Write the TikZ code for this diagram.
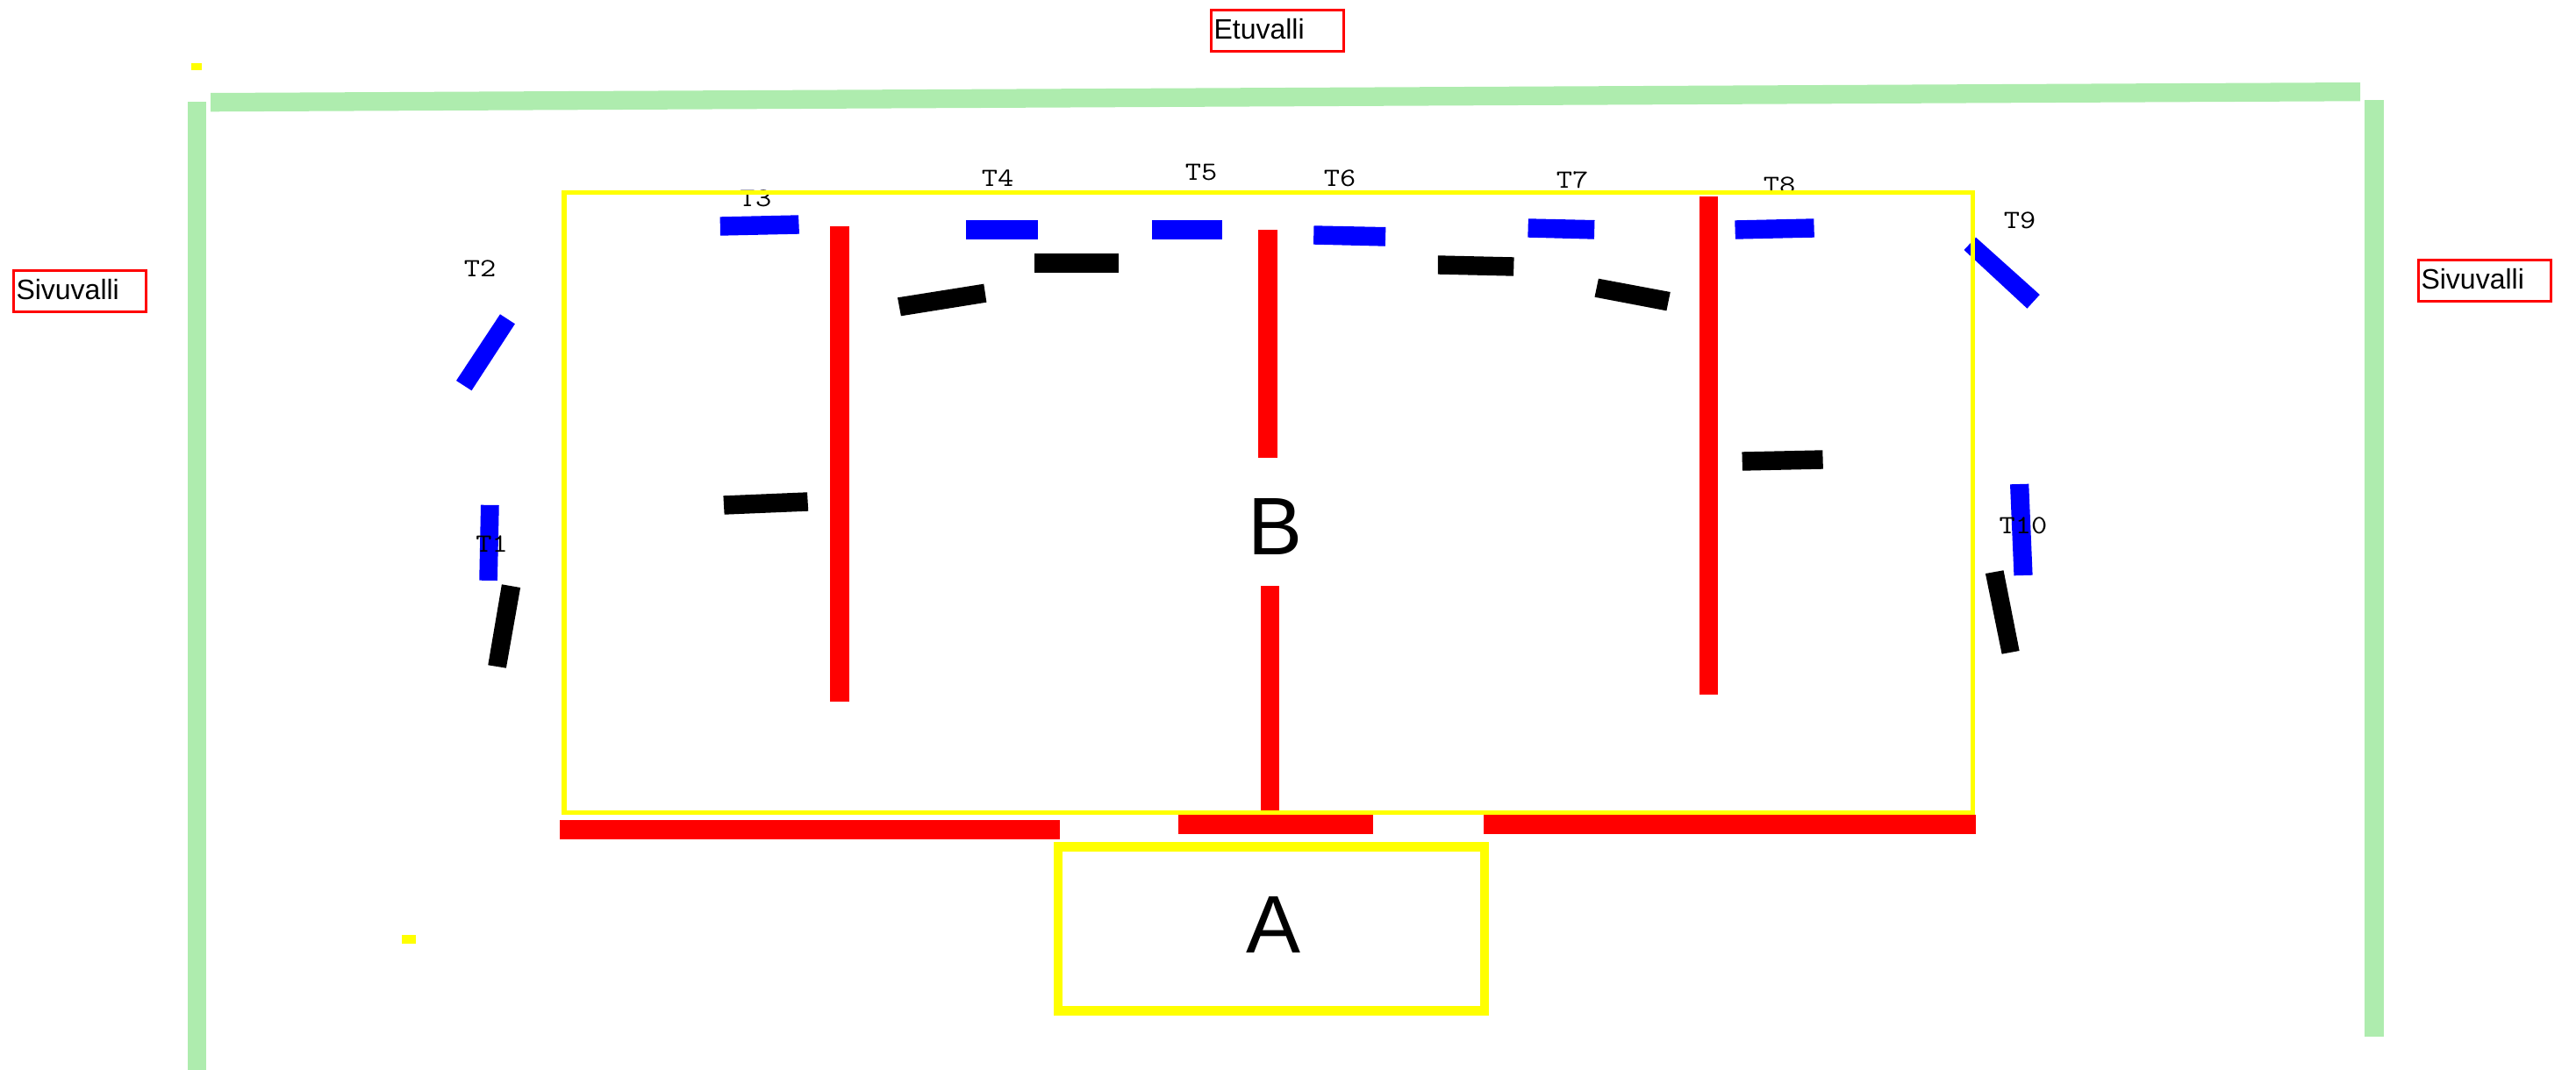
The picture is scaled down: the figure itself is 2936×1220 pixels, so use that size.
\documentclass[tikz,border=0pt]{standalone}
\usepackage{fontspec}
\setmainfont{Liberation Sans}
\newfontfamily\tfont[FakeStretch=1.18]{Latin Modern Mono}
\definecolor{wallgreen}{RGB}{174,236,174}
\definecolor{roomyellow}{RGB}{255,255,0}
\definecolor{barred}{RGB}{255,0,0}
\definecolor{barblue}{RGB}{0,0,255}
\tikzset{
    wallbar/.style={fill=wallgreen},
    glassbar/.style={fill=barred},
    thermo/.style={fill=barblue},
    heater/.style={fill=black},
    mark box/.style={fill=roomyellow},
    wallbox/.style={draw=barred, line width=3pt, minimum width=151pt, minimum height=47pt,
        text width=145pt, inner xsep=3pt, inner ysep=0pt, align=left,
        text height=23pt, text depth=5pt, font=\fontsize{32}{38}\selectfont},
    tlabel/.style={inner sep=0pt, font=\tfont\fontsize{30}{36}\selectfont},
    roomlabel/.style={inner sep=0pt, font=\fontsize{93}{110}\selectfont}
}
\begin{document}
\begin{tikzpicture}[x=1pt, y=-1pt]
    \useasboundingbox (0,0) rectangle (2936,1220);

    % Outer walls
    \fill[wallbar] (240,106) -- (2690,94) -- (2690,115.3) -- (240,127.3) -- cycle;
    \fill[wallbar] (214,116) rectangle (235,1220);
    \fill[wallbar] (2695,114) rectangle (2717,1182);

    % Small yellow marks
    \fill[mark box] (218,72) rectangle (230,80);
    \fill[mark box] (458,1066) rectangle (474,1076);

    % Wall names
    \node[wallbox] (sideleft) at (91,332) {Sivuvalli};
    \node[wallbox] (sideright) at (2832,320) {Sivuvalli};
    \node[wallbox] (front) at (1456,35.5) {Etuvalli};

    % Red partitions
    \fill[glassbar] (946,258) rectangle (967.5,800);
    \fill[glassbar] (1434,262) rectangle (1456,522);
    \fill[glassbar] (1436.5,668) rectangle (1457.5,926);
    \fill[glassbar] (1937,224) rectangle (1958,792);

    % Red bars under room B
    \fill[glassbar] (638,935) rectangle (1208,957);
    \fill[glassbar] (1343,929) rectangle (1565,951);
    \fill[glassbar] (1691,929) rectangle (2252,951);

    % Blue bars
    \fill[thermo] (548,575.7) -- (568.75,576) -- (566.9,662) -- (546.25,661.7) -- cycle;
    \fill[thermo] (570,358.3) -- (586.9,369.3) -- (537.5,445.3) -- (520,434) -- cycle;
    \fill[thermo] (820.6,247.3) -- (910,245.3) -- (911,266.7) -- (821,268.7) -- cycle;
    \fill[thermo] (1100.6,251) rectangle (1183,272.7);
    \fill[thermo] (1313,251) rectangle (1393,272.7);
    \fill[thermo] (1497.5,257.3) -- (1579.4,259) -- (1578.8,280.7) -- (1497,278.7) -- cycle;
    \fill[thermo] (1741.9,249.3) -- (1817.5,251) -- (1816.9,272.7) -- (1741.3,270.7) -- cycle;
    \fill[thermo] (1977.25,251.3) -- (2067.25,249.3) -- (2067.9,270.7) -- (1977.9,272.7) -- cycle;
    \fill[thermo] (2252,270.7) -- (2324.75,336) -- (2310.4,351.7) -- (2238.5,285) -- cycle;
    \fill[thermo] (2291,552.3) -- (2312.25,551.7) -- (2316.6,655.7) -- (2295.4,656.3) -- cycle;

    % Black bars
    \fill[heater] (571.9,666.3) -- (593.1,670) -- (576.9,761.7) -- (556.25,758.3) -- cycle;
    \fill[heater] (824.4,565.3) -- (920,561.3) -- (921.25,582.7) -- (825.6,586.7) -- cycle;
    \fill[heater] (1023,339.3) -- (1121.25,323.7) -- (1124.4,344.7) -- (1026.9,360.3) -- cycle;
    \fill[heater] (1178.75,289) rectangle (1275,310.7);
    \fill[heater] (1638.75,291.3) -- (1725.6,293.3) -- (1725,314.7) -- (1638.75,312.7) -- cycle;
    \fill[heater] (1821.9,317.7) -- (1903.75,333) -- (1899.4,354.3) -- (1817.5,338.7) -- cycle;
    \fill[heater] (1985.4,515.3) -- (2077.25,513.3) -- (2077.9,534.7) -- (1986,536.7) -- cycle;
    \fill[heater] (2262.9,654) -- (2283.5,650.3) -- (2301.6,742) -- (2281.6,745.7) -- cycle;

    % Labels of the blue bars
    \node[tlabel] (t1) at (560.6,620) {T1};
    \node[tlabel] (t2) at (547,306) {T2};
    \node[tlabel] (t3) at (861,226) {T3};
    \node[tlabel] (t4) at (1137,203) {T4};
    \node[tlabel] (t5) at (1369,197) {T5};
    \node[tlabel] (t6) at (1527,203) {T6};
    \node[tlabel] (t7) at (1792,205) {T7};
    \node[tlabel] (t8) at (2028,211) {T8};
    \node[tlabel] (t9) at (2302,251) {T9};
    \node[tlabel] (t10) at (2306,599) {T10};

    % Rooms
    \draw[roomyellow, line width=5.5pt] (643,219.5) rectangle (2248.5,926.5);
    \draw[roomyellow, line width=10.5pt] (1206,965.5) rectangle (1692,1152.5);
    \node[roomlabel] (rooma) at (1451,1054.5) {A};
    \node[roomlabel] (roomb) at (1453.5,600.3) {B};
\end{tikzpicture}
\end{document}
